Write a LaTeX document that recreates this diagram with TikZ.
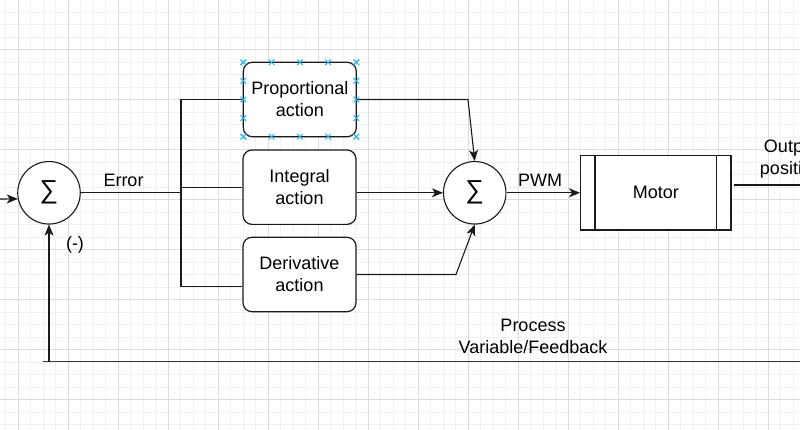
\documentclass[tikz,border=0pt]{standalone}
\usepackage{fontspec}
\setmainfont{Liberation Sans}
\usetikzlibrary{arrows.meta,calc}
\definecolor{gridminor}{HTML}{F1F1F1}
\definecolor{gridmajor}{HTML}{DCDCDC}
\definecolor{handleblue}{HTML}{29B6F2}
\definecolor{ink}{HTML}{1A1A1A}
\begin{document}
\begin{tikzpicture}[x=1pt,y=-1pt,
  txt/.style={font=\fontsize{18}{22}\selectfont, align=center, inner sep=0pt, text=black},
  block/.style={draw=ink, line width=1.2pt, rounded corners=9pt, fill=white,
    minimum width=113pt, minimum height=74.4pt, inner sep=0pt, txt},
  sumnode/.style={draw=ink, circle, line width=1.1pt, fill=white,
    minimum size=62.5pt, inner sep=0pt, font=\fontsize{26}{26}\selectfont},
  wire/.style={draw=ink, line width=1.1pt},
  flow/.style={wire, -{Stealth[length=11pt,width=9pt,inset=3pt]}},
  handle/.style={draw=handleblue, line width=1pt}
]
% canvas and background grid
\useasboundingbox (0,0) rectangle (800,430);
\fill[white] (0,0) rectangle (800,430);
\foreach \i in {0,...,64} \draw[gridminor, line width=0.8pt] ({5.5+12.5*\i},0) -- ++(0,430);
\foreach \i in {0,...,35} \draw[gridminor, line width=0.8pt] (0,{-0.5+12.5*\i}) -- ++(800,0);
\foreach \i in {0,...,15} \draw[gridmajor, line width=0.8pt] ({18+50*\i},0) -- ++(0,430);
\foreach \i in {0,...,8} \draw[gridmajor, line width=0.8pt] (0,{-0.5+50*\i}) -- ++(800,0);

% summing junctions
\node[sumnode] (sumA) at (49,192.8) {∑};
\node[sumnode] (sumB) at (474.7,192.8) {∑};

% controller branches
\node[block] (prop)  at (299.8,99.5)  {Proportional\\action};
\node[block] (integ) at (299.5,187.2) {Integral\\action};
\node[block] (deriv) at (299.5,274.5) {Derivative\\action};

% plant
\node[draw=ink, line width=1.2pt, fill=white, minimum width=150.3pt, minimum height=74.3pt,
  inner sep=0pt, txt] (motor) at (655.8,192.8) {Motor};
\draw[ink, line width=1.2pt] ($(motor.north west)+(15,0)$) -- ($(motor.south west)+(15,0)$);
\draw[ink, line width=1.2pt] ($(motor.north east)+(-15,0)$) -- ($(motor.south east)+(-15,0)$);

% free ends and bends
\coordinate (inStart) at (0,199);
\coordinate (busTop) at (181,99.5);
\coordinate (busBot) at (181,286.7);
\coordinate (pBend) at (468,99.5);
\coordinate (dBend) at (456,274.5);
\coordinate (outStart) at (734,185);
\coordinate (outEnd) at (800,185);
\coordinate (fbCorner) at (49,361.5);
\coordinate (fbStart) at (43,361.5);
\coordinate (fbEnd) at (800,361.5);

% connectors
\draw[flow] (inStart) -- (sumA.191);
\draw[wire] (sumA.east) -- (sumA.east -| busTop);
\draw[wire] (prop.west) -| (busBot) -- (deriv.west |- busBot);
\draw[wire] (integ.west -| busTop) -- (integ.west);
\draw[flow] (prop.east) -- (pBend) -- (sumB.north);
\draw[flow] (integ.east |- sumB.west) -- (sumB.west);
\draw[flow] (deriv.east) -- (dBend) -- (sumB.south);
\draw[flow] (sumB.east) -- (motor.west);
\draw[wire] (outStart) -- (outEnd);
\draw[wire, line width=1.6pt, draw=ink!85!white] (fbStart) -- (fbEnd);
\draw[flow] (fbCorner) -- (sumA.south);

% labels
\node[txt] (lblError) at (123.5,180) {Error};
\node[txt] (lblMinus) at (75,245) {(-)};
\node[txt] (lblPWM) at (540,180) {PWM};
\node[txt] (lblOut) at (791,159) {Output\\position};
\node[txt] (lblFb) at (533,336) {Process\\Variable/Feedback};

% selection handles around the proportional block
\foreach \k in {0,...,4} {
  \foreach \px/\py in {{243.3+28.25*\k}/62.3, {243.3+28.25*\k}/136.7, 243.3/{62.3+18.6*\k}, 356.3/{62.3+18.6*\k}} {
    \draw[handle] ($(\px,\py)+(-2.8,-2.8)$) -- ($(\px,\py)+(2.8,2.8)$);
    \draw[handle] ($(\px,\py)+(-2.8,2.8)$) -- ($(\px,\py)+(2.8,-2.8)$);
  }
}
\end{tikzpicture}
\end{document}
